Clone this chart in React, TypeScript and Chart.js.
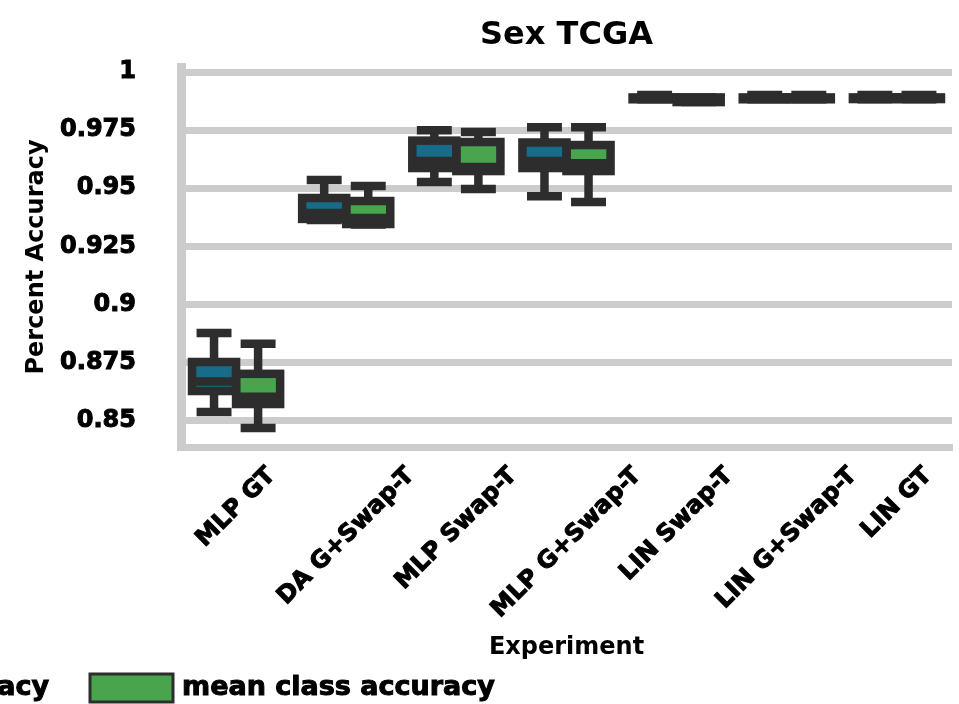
import React, { useEffect, useRef } from "react";
import { Chart, registerables } from "chart.js";

Chart.register(...registerables);

const categories = [
  "MLP GT",
  "DA G+Swap-T",
  "MLP Swap-T",
  "MLP G+Swap-T",
  "LIN Swap-T",
  "LIN G+Swap-T",
  "LIN GT",
];
const seriesLabels = ["accuracy", "mean class accuracy"];
const seriesColors = ["#176c8a", "#48a54e"];

const accuracyLow = [0.8537, 0.9363, 0.9527, 0.9466, 0.9883, 0.9883, 0.9883];
const accuracyQ1 = [0.8627, 0.9368, 0.9587, 0.9587, 0.9883, 0.9883, 0.9884];
const accuracyMedian = [0.8668, 0.9393, 0.9617, 0.9617, 0.9887, 0.9887, 0.9888];
const accuracyQ3 = [0.8752, 0.9458, 0.9705, 0.9697, 0.9891, 0.9891, 0.9891];
const accuracyHigh = [0.8877, 0.9535, 0.975, 0.9763, 0.9901, 0.9901, 0.9901];

const meanClassLow = [0.8468, 0.9344, 0.9497, 0.9441, 0.9871, 0.9883, 0.9883];
const meanClassQ1 = [0.8571, 0.9346, 0.9574, 0.9574, 0.9871, 0.9883, 0.9884];
const meanClassMedian = [0.8602, 0.9372, 0.9591, 0.9608, 0.988, 0.9887, 0.9888];
const meanClassQ3 = [0.8701, 0.9445, 0.9699, 0.9686, 0.9891, 0.9891, 0.9891];
const meanClassHigh = [0.883, 0.951, 0.9742, 0.9763, 0.9891, 0.9901, 0.9901];

const yTicks = [0.85, 0.875, 0.9, 0.925, 0.95, 0.975, 1];
const yTickLabels = ["0.85", "0.875", "0.9", "0.925", "0.95", "0.975", "1"];

const FONT = "'DejaVu Sans', 'Liberation Sans', sans-serif";
const EDGE = "#2d2d2d";
const GRID = "#cccccc";
const LW = 8.5;

const seriesStats = [
  { low: accuracyLow, q1: accuracyQ1, med: accuracyMedian, q3: accuracyQ3, high: accuracyHigh },
  { low: meanClassLow, q1: meanClassQ1, med: meanClassMedian, q3: meanClassQ3, high: meanClassHigh },
];

const boxPlugin = {
  id: "boxDetails",
  afterDatasetsDraw(chart: any) {
    const ctx = chart.ctx as CanvasRenderingContext2D;
    const ys = chart.scales.y;
    ctx.save();
    ctx.strokeStyle = EDGE;
    ctx.lineWidth = LW;
    seriesStats.forEach((s, i) => {
      const meta = chart.getDatasetMeta(i);
      meta.data.forEach((bar: any, j: number) => {
        const { x, width } = bar.getProps(["x", "width"], true);
        const yq1 = ys.getPixelForValue(s.q1[j]);
        const yq3 = ys.getPixelForValue(s.q3[j]);
        const ymed = ys.getPixelForValue(s.med[j]);
        const ylo = ys.getPixelForValue(s.low[j]);
        const yhi = ys.getPixelForValue(s.high[j]);
        const ch = width * 0.3;
        ctx.lineCap = "butt";
        ctx.beginPath();
        ctx.moveTo(x, yq3);
        ctx.lineTo(x, yhi);
        ctx.moveTo(x, yq1);
        ctx.lineTo(x, ylo);
        ctx.stroke();
        ctx.lineCap = "square";
        ctx.beginPath();
        ctx.moveTo(x - ch, yhi);
        ctx.lineTo(x + ch, yhi);
        ctx.moveTo(x - ch, ylo);
        ctx.lineTo(x + ch, ylo);
        ctx.stroke();
        ctx.lineJoin = "miter";
        ctx.strokeRect(x - width / 2, yq3, width, yq1 - yq3);
        ctx.lineCap = "butt";
        ctx.beginPath();
        ctx.moveTo(x - width / 2, ymed);
        ctx.lineTo(x + width / 2, ymed);
        ctx.stroke();
      });
    });
    ctx.restore();
  },
};

const xLabelPlugin = {
  id: "xLabels",
  afterDraw(chart: any) {
    const ctx = chart.ctx as CanvasRenderingContext2D;
    const xs = chart.scales.x;
    const area = chart.chartArea;
    ctx.save();
    ctx.font = `bold 24px ${FONT}`;
    ctx.fillStyle = "#000000";
    ctx.strokeStyle = "#000000";
    ctx.lineWidth = 1;
    ctx.textAlign = "center";
    ctx.textBaseline = "middle";
    const h = 28;
    const top = area.bottom + 15;
    categories.forEach((label, i) => {
      const x = xs.getPixelForValue(i);
      const L = ctx.measureText(label).width;
      const half = (L + h) / (2 * Math.SQRT2);
      ctx.save();
      ctx.translate(x, top + half);
      ctx.rotate(-Math.PI / 4);
      ctx.fillText(label, 0, 0);
      ctx.strokeText(label, 0, 0);
      ctx.restore();
    });
    ctx.restore();
  },
};

const legendPlugin = {
  id: "bottomLegend",
  afterDraw(chart: any) {
    const ctx = chart.ctx as CanvasRenderingContext2D;
    ctx.save();
    ctx.font = `bold 27px ${FONT}`;
    ctx.textBaseline = "middle";
    ctx.textAlign = "left";
    const patchW = 83;
    const patchH = 28;
    const gap = 9;
    const colGap = 41;
    const yMid = 688;
    const lastPatchX = 90;
    const starts: number[] = [];
    starts[seriesLabels.length - 1] = lastPatchX;
    for (let k = seriesLabels.length - 2; k >= 0; k--) {
      const w = ctx.measureText(seriesLabels[k]).width;
      starts[k] = starts[k + 1] - colGap - w - gap - patchW;
    }
    seriesLabels.forEach((label, k) => {
      const px = starts[k];
      ctx.fillStyle = seriesColors[k];
      ctx.fillRect(px, yMid - patchH / 2, patchW, patchH);
      ctx.strokeStyle = EDGE;
      ctx.lineWidth = 3;
      ctx.strokeRect(px, yMid - patchH / 2, patchW, patchH);
      ctx.fillStyle = "#000000";
      ctx.strokeStyle = "#000000";
      ctx.lineWidth = 1;
      ctx.fillText(label, px + patchW + gap, yMid);
      ctx.strokeText(label, px + patchW + gap, yMid);
    });
    ctx.restore();
  },
};

export default function App() {
  const ref = useRef<HTMLCanvasElement | null>(null);
  useEffect(() => {
    if (!ref.current) return;
    Chart.defaults.font.family = FONT;
    const chart = new Chart(ref.current, {
      type: "bar",
      data: {
        labels: categories,
        datasets: seriesStats.map((s, i) => ({
          label: seriesLabels[i],
          data: categories.map((_, j) => [s.q1[j], s.q3[j]]),
          backgroundColor: seriesColors[i],
          borderWidth: 0,
          categoryPercentage: 0.8,
          barPercentage: 1.0,
        })),
      } as any,
      options: {
        responsive: false,
        animation: false,
        devicePixelRatio: 1,
        layout: { padding: { left: 0, right: 7, top: 0, bottom: 0 } },
        plugins: {
          legend: { display: false },
          tooltip: { enabled: false },
          title: {
            display: true,
            text: "Sex TCGA",
            fullSize: false,
            color: "#000000",
            font: { family: FONT, size: 32, weight: "bold" },
            padding: { top: 16, bottom: 12.6 },
          },
        },
        scales: {
          x: {
            grid: { display: false },
            border: { display: true, color: GRID, width: 7 },
            ticks: { display: false },
            title: {
              display: true,
              text: "Experiment",
              color: "#000000",
              font: { family: FONT, size: 24, weight: "bold" },
              padding: { top: 0, bottom: 42 },
            },
            afterFit: (s: any) => {
              s.height = 257;
            },
          },
          y: {
            min: 0.8386,
            max: 1.0022,
            afterBuildTicks: (s: any) => {
              s.ticks = yTicks.map((v) => ({ value: v }));
            },
            ticks: {
              callback: (_v: any, i: number) => yTickLabels[i],
              padding: 45,
              color: "#000000",
              textStrokeColor: "#000000",
              textStrokeWidth: 1,
              font: { family: FONT, size: 24, weight: "bold" },
            },
            grid: { color: GRID, lineWidth: 7, drawTicks: false },
            border: { display: true, color: GRID, width: 9 },
            title: {
              display: true,
              text: "Percent Accuracy",
              color: "#000000",
              font: { family: FONT, size: 24, weight: "bold" },
              padding: { top: 22, bottom: 0 },
            },
            afterFit: (s: any) => {
              s.width = 181;
            },
          },
        },
      } as any,
      plugins: [boxPlugin, xLabelPlugin, legendPlugin],
    });
    return () => chart.destroy();
  }, []);
  return (
    <div style={{ position: "fixed", left: 0, top: 0, width: 959, height: 704, background: "#ffffff" }}>
      <canvas ref={ref} width={959} height={704} style={{ display: "block" }} />
    </div>
  );
}
